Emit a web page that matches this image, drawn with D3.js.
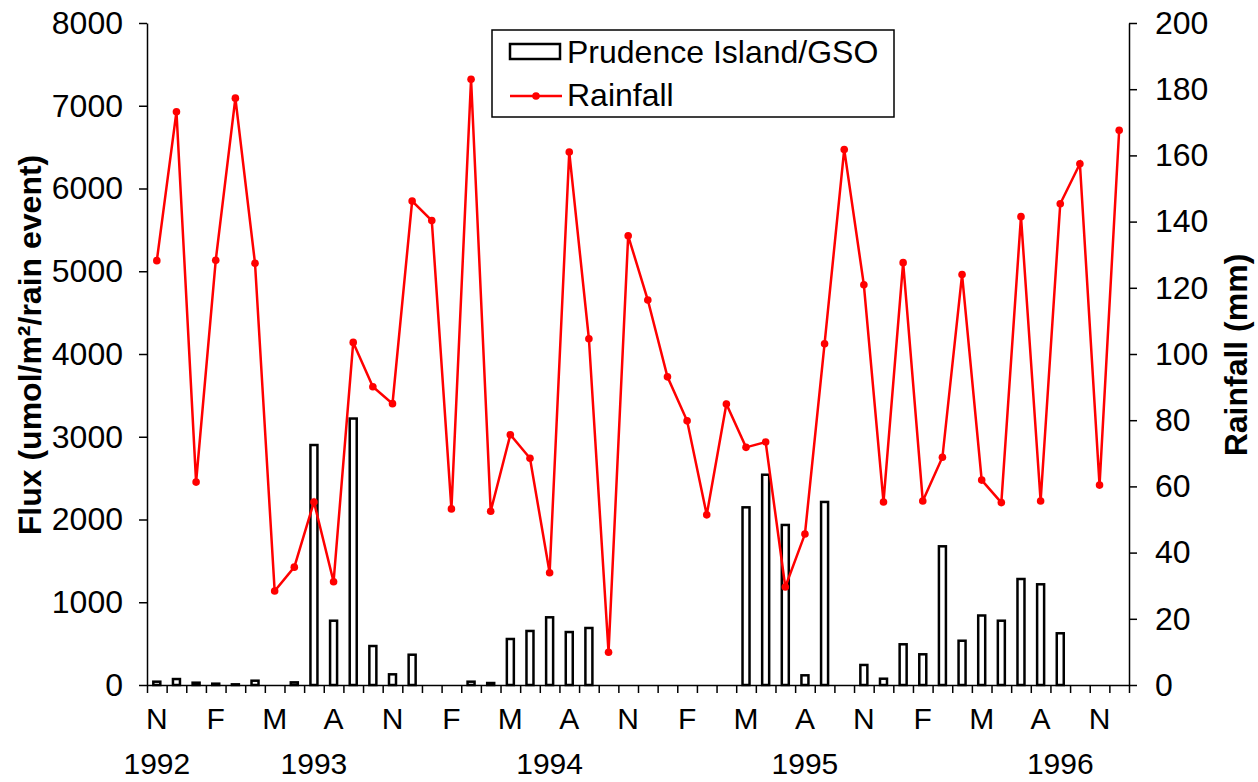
<!DOCTYPE html>
<html>
<head>
<meta charset="utf-8">
<script src="https://cdn.jsdelivr.net/npm/d3@7"></script>
<style>
  body { margin: 0; background: #fff; }
  svg { display: block; font-family: "Liberation Sans", Arial, sans-serif; }
  .axis path, .axis line { stroke: #000; stroke-width: 1.5; }
  .axis text { font-size: 30px; fill: #000; }
  .axis.yax text { font-size: 32px; }
</style>
</head>
<body>
<div id="chart"></div>
<script>
// monthly samples, Nov 1992 .. Dec 1996
var flux = [40, 72, 28, 16, 8, 52, null, 32, 2900, 777, 3220, 471, 129, 366, null, null,
    40, 24, 556, 653, 818, 640, 689, null, null, null, null, null, null, null,
    2147, 2541, 1934, 117, 2212, null, 242, 76, 492, 371, 1676, 535, 840, 777, 1281, 1217, 625,
    null, null, null];

var rainfall = [128.2, 173.2, 61.3, 128.3, 177.3, 127.4, 28.4, 35.6, 55.3, 31.2, 103.5, 90.1,
    85.0, 146.2, 140.3, 53.2, 183.0, 52.5, 75.6, 68.5, 33.9, 161.0, 104.6, 9.9, 135.7, 116.3,
    93.1, 79.8, 51.4, 84.9, 71.8, 73.4, 29.6, 45.6, 103.1, 161.8, 120.9, 55.3, 127.6, 55.6,
    68.8, 124.0, 61.9, 55.1, 141.5, 55.6, 145.4, 157.5, 60.4, 167.6];

var monthTickIdx = [0, 3, 6, 9, 12, 15, 18, 21, 24, 27, 30, 33, 36, 39, 42, 45, 48];
var monthTickLabels = ['N', 'F', 'M', 'A', 'N', 'F', 'M', 'A', 'N', 'F', 'M', 'A', 'N', 'F', 'M', 'A', 'N'];
var yearIdx = [0, 8, 20, 33, 46];
var yearLabels = ['1992', '1993', '1994', '1995', '1996'];

var fluxTicks = [0, 1000, 2000, 3000, 4000, 5000, 6000, 7000, 8000];
var rainTicks = [0, 20, 40, 60, 80, 100, 120, 140, 160, 180, 200];

var width = 1258, height = 782,
    plotLeft = 147, plotRight = 1129, plotTop = 23, plotBottom = 685;

var svg = d3.select('#chart').append('svg')
    .attr('width', width)
    .attr('height', height);

var n = flux.length;
var x = d3.scaleBand().domain(d3.range(n)).range([plotLeft, plotRight]).padding(0);
var xEdge = d3.scaleLinear().domain([0, n]).range([plotLeft, plotRight]);
var yFlux = d3.scaleLinear().domain([0, 8000]).range([plotBottom, plotTop]);
var yRain = d3.scaleLinear().domain([0, 200]).range([plotBottom, plotTop]);

// bars
var barW = 7;
svg.append('g')
    .selectAll('rect')
    .data(flux.map(function(v, i) { return {i: i, v: v}; }).filter(function(d) { return d.v !== null; }))
    .enter()
    .append('rect')
    .attr('x', function(d) { return x(d.i) + x.bandwidth() / 2 - barW / 2; })
    .attr('y', function(d) { return yFlux(d.v); })
    .attr('width', barW)
    .attr('height', function(d) { return plotBottom - yFlux(d.v); })
    .attr('fill', '#fff')
    .attr('stroke', '#000')
    .attr('stroke-width', 2.5);

// axes
svg.append('g')
    .attr('class', 'axis yax')
    .attr('transform', 'translate(' + plotLeft + ',0)')
    .call(d3.axisLeft(yFlux).tickValues(fluxTicks).tickFormat(d3.format('d'))
        .tickSize(8).tickPadding(16).tickSizeOuter(0));

svg.append('g')
    .attr('class', 'axis yax')
    .attr('transform', 'translate(' + plotRight + ',0)')
    .call(d3.axisRight(yRain).tickValues(rainTicks).tickFormat(d3.format('d'))
        .tickSize(8).tickPadding(18).tickSizeOuter(0));

svg.append('g')
    .attr('class', 'axis')
    .attr('transform', 'translate(0,' + plotBottom + ')')
    .call(d3.axisBottom(xEdge).tickValues(d3.range(n + 1)).tickFormat('').tickSize(8).tickSizeOuter(0));

svg.append('g')
    .attr('class', 'axis')
    .attr('transform', 'translate(0,' + plotBottom + ')')
    .call(d3.axisBottom(x).tickValues(monthTickIdx)
        .tickFormat(function(d, i) { return monthTickLabels[i]; })
        .tickSize(0).tickPadding(23))
    .call(function(g) { g.select('.domain').remove(); });

svg.append('g')
    .attr('class', 'axis')
    .attr('transform', 'translate(0,' + plotBottom + ')')
    .call(d3.axisBottom(x).tickValues(yearIdx)
        .tickFormat(function(d, i) { return yearLabels[i]; })
        .tickSize(0).tickPadding(68))
    .call(function(g) { g.select('.domain').remove(); });

// rainfall line
var line = d3.line()
    .x(function(d, i) { return x(i) + x.bandwidth() / 2; })
    .y(function(d) { return yRain(d); });

svg.append('path')
    .datum(rainfall)
    .attr('d', line)
    .attr('fill', 'none')
    .attr('stroke', '#ff0000')
    .attr('stroke-width', 2.5);

svg.append('g')
    .selectAll('circle')
    .data(rainfall)
    .enter()
    .append('circle')
    .attr('cx', function(d, i) { return x(i) + x.bandwidth() / 2; })
    .attr('cy', function(d) { return yRain(d); })
    .attr('r', 3.8)
    .attr('fill', '#ff0000');

// axis titles
svg.append('text')
    .attr('transform', 'translate(41,345) rotate(-90)')
    .attr('text-anchor', 'middle')
    .style('font-size', '32px')
    .style('font-weight', 'bold')
    .text('Flux (umol/m²/rain event)');

svg.append('text')
    .attr('transform', 'translate(1247,355) rotate(-90)')
    .attr('text-anchor', 'middle')
    .style('font-size', '32px')
    .style('font-weight', 'bold')
    .text('Rainfall (mm)');

// legend
var legend = svg.append('g').attr('transform', 'translate(492,30)');
legend.append('rect')
    .attr('width', 402).attr('height', 87)
    .attr('fill', '#fff').attr('stroke', '#000').attr('stroke-width', 1.5);
legend.append('rect')
    .attr('x', 18).attr('y', 14).attr('width', 50).attr('height', 15)
    .attr('fill', '#fff').attr('stroke', '#000').attr('stroke-width', 2.5);
legend.append('text')
    .attr('x', 75).attr('y', 33)
    .style('font-size', '32px')
    .text('Prudence Island/GSO');
legend.append('line')
    .attr('x1', 18).attr('x2', 70).attr('y1', 66).attr('y2', 66)
    .attr('stroke', '#ff0000').attr('stroke-width', 2.5);
legend.append('circle')
    .attr('cx', 44).attr('cy', 66).attr('r', 3.8).attr('fill', '#ff0000');
legend.append('text')
    .attr('x', 75).attr('y', 76)
    .style('font-size', '32px')
    .text('Rainfall');
</script>
</body>
</html>
